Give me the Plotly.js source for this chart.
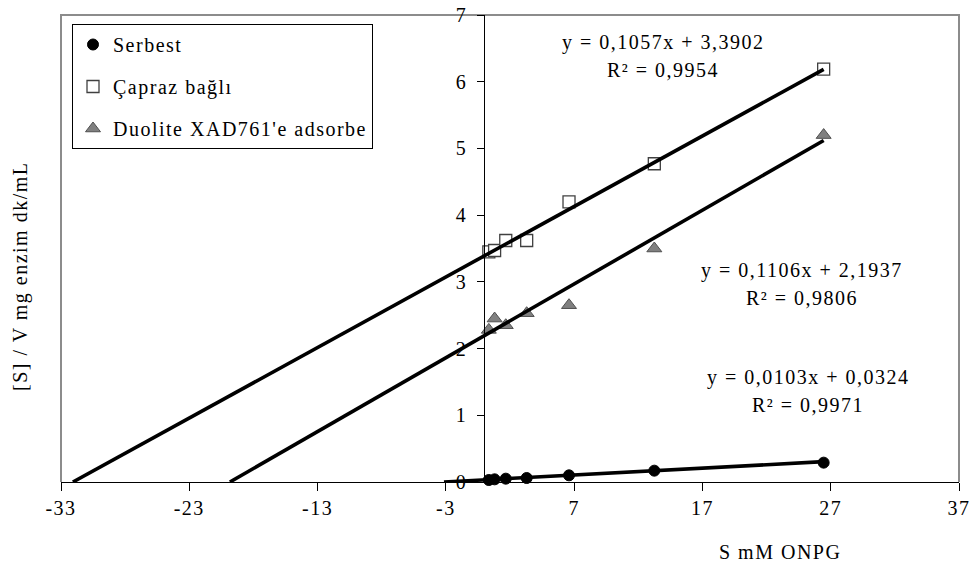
<!DOCTYPE html>
<html>
<head>
<meta charset="utf-8">
<script src="https://cdn.plot.ly/plotly-3.0.1.min.js"></script>
<style>
html,body{margin:0;padding:0;background:#fff;}
svg text{letter-spacing:1.5px;}
</style>
</head>
<body>
<div id="chart" style="width:973px;height:572px;"></div>
<script>
// ---- data ----
const seriesNames = ["Serbest", "Çapraz bağlı", "Duolite XAD761'e adsorbe"];
const xConc = [0.35, 0.8, 1.67, 3.3, 6.6, 13.25, 26.45];
const serbest = [0.03, 0.04, 0.05, 0.06, 0.10, 0.17, 0.29];
const capraz = [3.45, 3.47, 3.62, 3.62, 4.20, 4.77, 6.19];
const duolite = [2.28, 2.45, 2.35, 2.53, 2.65, 3.50, 5.20];
const slopes = [0.0103, 0.1057, 0.1106];
const intercepts = [0.0324, 3.3902, 2.1937];
const eqTexts = ["y = 0,0103x + 0,0324", "y = 0,1057x + 3,3902", "y = 0,1106x + 2,1937"];
const r2Texts = ["R² = 0,9971", "R² = 0,9954", "R² = 0,9806"];
const xTicks = [-33, -23, -13, -3, 7, 17, 27, 37];
const yTicks = [0, 1, 2, 3, 4, 5, 6, 7];
const xTitle = "S mM ONPG";
const yTitle = "[S] / V mg enzim dk/mL";

// ---- geometry ----
const W = 973, H = 572;
const M = {l: 61, r: 14, t: 15, b: 90};
const pw = W - M.l - M.r, ph = H - M.t - M.b;
const px = x => (x - M.l) / pw;
const py = y => (H - M.b - y) / ph;
const FONT = "Liberation Serif, Times New Roman, serif";
const FS = 20;

const allY = [serbest, capraz, duolite];
const markerStyles = [
  {symbol: 'circle', size: 11, color: '#000000', line: {color: '#000000', width: 1}},
  {symbol: 'square', size: 12, color: '#ffffff', line: {color: '#404040', width: 1.3}},
  {symbol: 'triangle-up', size: 13, color: '#808080', line: {color: '#505050', width: 1}}
];

const traces = [];
for (let i = 0; i < 3; i++) {
  traces.push({
    x: xConc, y: allY[i], mode: 'markers', type: 'scatter',
    name: seriesNames[i], legendgroup: 'g' + i,
    marker: markerStyles[i], cliponaxis: false
  });
}
for (let i = 0; i < 3; i++) {
  const x0 = -intercepts[i] / slopes[i];
  const x1 = Math.max(...xConc);
  traces.push({
    x: [x0, x1], y: [slopes[i] * x0 + intercepts[i], slopes[i] * x1 + intercepts[i]],
    mode: 'lines', type: 'scatter', showlegend: false, hoverinfo: 'skip',
    line: {color: '#000000', width: 3.6}
  });
}

const eqPos = [[808, 377, 405], [663, 42, 70], [802, 270, 298]];
const annotations = [];
for (let i = 0; i < 3; i++) {
  annotations.push({xref: 'paper', yref: 'paper', x: px(eqPos[i][0]), y: py(eqPos[i][1]),
    text: eqTexts[i], showarrow: false, xanchor: 'center', yanchor: 'middle',
    font: {family: FONT, size: FS, color: '#000'}});
  annotations.push({xref: 'paper', yref: 'paper', x: px(eqPos[i][0]), y: py(eqPos[i][2]),
    text: r2Texts[i], showarrow: false, xanchor: 'center', yanchor: 'middle',
    font: {family: FONT, size: FS, color: '#000'}});
}
annotations.push({xref: 'paper', yref: 'paper', x: px(780), y: py(552), text: xTitle,
  showarrow: false, xanchor: 'center', yanchor: 'middle', font: {family: FONT, size: FS, color: '#000'}});
annotations.push({xref: 'paper', yref: 'paper', x: px(20), y: py(277), text: yTitle,
  textangle: -90, showarrow: false, xanchor: 'center', yanchor: 'middle', font: {family: FONT, size: FS, color: '#000'}});

const layout = {
  width: W, height: H, margin: M,
  paper_bgcolor: '#ffffff', plot_bgcolor: '#ffffff',
  font: {family: FONT, size: FS, color: '#000'},
  showlegend: true,
  legend: {x: px(72), y: py(24), xanchor: 'left', yanchor: 'top',
    bgcolor: '#ffffff', bordercolor: '#000000', borderwidth: 1,
    font: {family: FONT, size: FS, color: '#000'}, tracegroupgap: 13, traceorder: 'grouped'},
  xaxis: {range: [xTicks[0], xTicks[xTicks.length - 1]], tickmode: 'array', tickvals: xTicks,
    ticktext: xTicks.map(String), ticks: 'outside', ticklen: 8, tickcolor: '#000', tickwidth: 1,
    showline: true, linecolor: '#000', linewidth: 1, showgrid: false, zeroline: false,
    tickfont: {family: FONT, size: FS, color: '#000'}},
  yaxis: {range: [yTicks[0], yTicks[yTicks.length - 1]], tickmode: 'array', tickvals: yTicks,
    anchor: 'free', position: (0 - xTicks[0]) / (xTicks[xTicks.length - 1] - xTicks[0]),
    ticks: 'outside', ticklen: 7, tickcolor: '#000', tickwidth: 1, ticklabelstandoff: 6,
    showline: true, linecolor: '#000', linewidth: 1, showgrid: false, zeroline: false,
    tickfont: {family: FONT, size: FS, color: '#000'}},
  shapes: [{type: 'path', xref: 'paper', yref: 'paper', path: 'M 0 0 L 0 1 L 1 1 L 1 0',
    line: {color: '#8c8c8c', width: 2}, layer: 'below'}],
  annotations: annotations
};

Plotly.newPlot('chart', traces, layout, {displayModeBar: false, staticPlot: true});
</script>
</body>
</html>
